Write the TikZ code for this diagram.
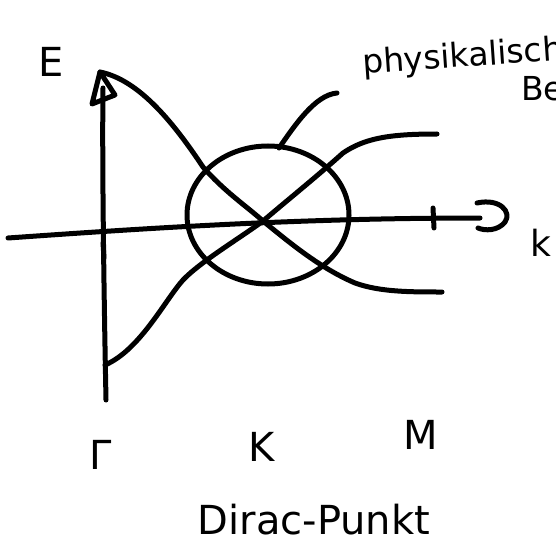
\documentclass[tikz,border=0pt]{standalone}
\usepackage{fontspec}
\setmainfont{DejaVu Sans}
\usetikzlibrary{shapes.geometric}
\begin{document}
\begin{tikzpicture}[x=1pt,y=-1pt,
  stroke/.style={line width=5pt,line cap=round,line join=round,black},
  lbl/.style={inner sep=0pt,font=\fontsize{40}{40}\selectfont},
  small/.style={inner sep=0pt,font=\fontsize{33}{33}\selectfont}]
\useasboundingbox (0,0) rectangle (556,548);
\clip (0,0) rectangle (556,548);
% coordinates
\coordinate (vbot) at (106,400);
\coordinate (vtop) at (100,72);
\coordinate (hl) at (8,238);
\coordinate (hr) at (480,218);
\coordinate (K0) at (263,221);
\coordinate (ptA) at (279,148);
\coordinate (ptB) at (337,93);
% axes
\draw[stroke] (vbot) .. controls (104,300) and (102,160) .. (103,88);
\draw[stroke] (hl) .. controls (150,228) and (300,218) .. (hr);
\draw[stroke] (vtop) -- (92,104) -- (115,95) -- cycle;
\draw[stroke] (477,203) .. controls (500,198) and (512,212) .. (505,222) .. controls (498,231) and (485,231) .. (478,228);
% ticks
\draw[stroke] (103,243) -- (104,258);
\draw[stroke] (433,208) -- (434,228);
% circle
\node[draw,line width=5pt,ellipse,minimum width=162pt,minimum height=138pt,inner sep=0pt] (circ) at (268,215) {};
% bands
\draw[stroke] (vtop) .. controls (140,80) and (175,125) .. (203,167)
  .. controls (225,192) and (245,205) .. (K0)
  .. controls (290,243) and (320,268) .. (355,283)
  .. controls (380,292) and (410,292) .. (442,292);
\draw[stroke] (105,365) .. controls (140,350) and (165,300) .. (183,280)
  .. controls (200,262) and (240,238) .. (K0)
  .. controls (290,198) and (315,178) .. (343,153)
  .. controls (365,138) and (390,134) .. (437,134);
% pointer
\draw[stroke] (ptA) .. controls (295,125) and (315,95) .. (ptB);
% labels
\node[lbl,anchor=center] (E) at (51,62) {E};
\node[lbl,anchor=center,font=\fontsize{36}{36}\selectfont] (Kax) at (541,243) {k};
\node[lbl,anchor=center] (Gam) at (101,455) {Γ};
\node[lbl,anchor=center] (Kp) at (262,447) {K};
\node[lbl,anchor=center] (Mp) at (421,435) {M};
\node[lbl,anchor=center] (dirac) at (314,520) {Dirac-Punkt};
\node[small,anchor=base west,rotate=4] (phys) at (363,74) {physikalisch};
\node[small,anchor=base west] (bereich) at (521,101) {Bereich};
\end{tikzpicture}
\end{document}
